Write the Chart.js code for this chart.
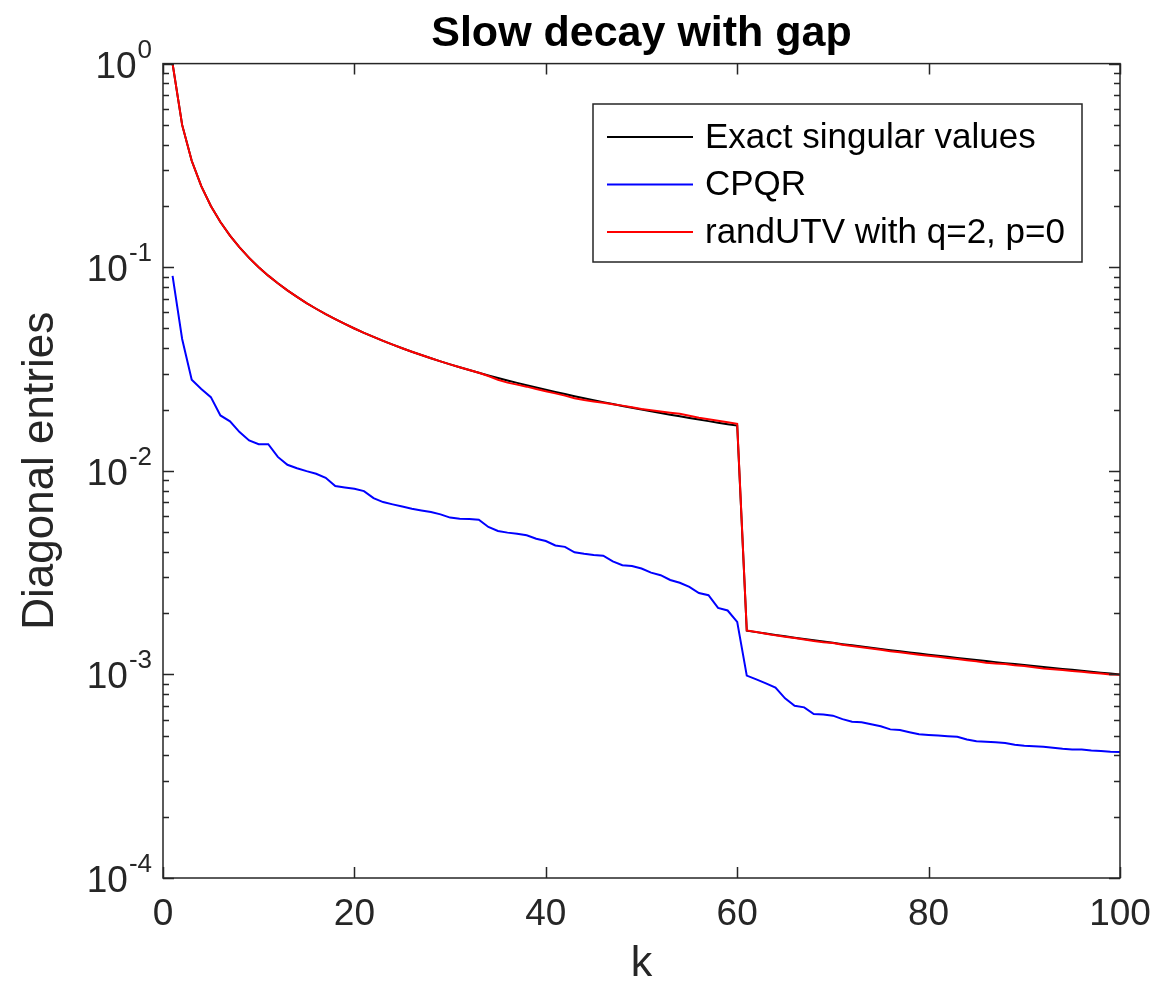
<!DOCTYPE html>
<html>
<head>
<meta charset="utf-8">
<script src="https://cdn.jsdelivr.net/npm/chart.js@4.4.1/dist/chart.umd.min.js"></script>
<style>
  html, body { margin: 0; padding: 0; background: #fff; }
  #wrap { width: 1160px; height: 995px; }
</style>
</head>
<body>
<div id="wrap"><canvas id="chart" width="1160" height="995"></canvas></div>
<script>
// k = 1..100
const kValues = [
  1, 2, 3, 4, 5, 6, 7, 8, 9, 10, 11, 12, 13, 14, 15, 16, 17, 18, 19, 20,
  21, 22, 23, 24, 25, 26, 27, 28, 29, 30, 31, 32, 33, 34, 35, 36, 37, 38, 39, 40,
  41, 42, 43, 44, 45, 46, 47, 48, 49, 50, 51, 52, 53, 54, 55, 56, 57, 58, 59, 60,
  61, 62, 63, 64, 65, 66, 67, 68, 69, 70, 71, 72, 73, 74, 75, 76, 77, 78, 79, 80,
  81, 82, 83, 84, 85, 86, 87, 88, 89, 90, 91, 92, 93, 94, 95, 96, 97, 98, 99, 100
];

// valori singolari esatti
const exactValues = [
  1, 0.5, 0.3333, 0.25, 0.2, 0.1667, 0.1429, 0.125, 0.1111, 0.1,
  0.09091, 0.08333, 0.07692, 0.07143, 0.06667, 0.0625, 0.05882, 0.05556, 0.05263, 0.05,
  0.04762, 0.04545, 0.04348, 0.04167, 0.04, 0.03846, 0.03704, 0.03571, 0.03448, 0.03333,
  0.03226, 0.03125, 0.0303, 0.02941, 0.02857, 0.02778, 0.02703, 0.02632, 0.02564, 0.025,
  0.02439, 0.02381, 0.02326, 0.02273, 0.02222, 0.02174, 0.02128, 0.02083, 0.02041, 0.02,
  0.01961, 0.01923, 0.01887, 0.01852, 0.01818, 0.01786, 0.01754, 0.01724, 0.01695, 0.01667,
  0.001639, 0.001613, 0.001587, 0.001563, 0.001538, 0.001515, 0.001493, 0.001471, 0.001449, 0.001429,
  0.001408, 0.001389, 0.00137, 0.001351, 0.001333, 0.001316, 0.001299, 0.001282, 0.001266, 0.00125,
  0.001235, 0.00122, 0.001205, 0.00119, 0.001176, 0.001163, 0.001149, 0.001136, 0.001124, 0.001111,
  0.001099, 0.001087, 0.001075, 0.001064, 0.001053, 0.001042, 0.001031, 0.00102, 0.00101, 0.001
];

// CPQR
const cpqrValues = [
  0.0906, 0.0444, 0.0280, 0.0252, 0.0230, 0.0187, 0.0175, 0.0155, 0.0141, 0.0135,
  0.0135, 0.0117, 0.0107, 0.0103, 0.00996, 0.00967, 0.00924, 0.00841, 0.00828, 0.00816,
  0.00795, 0.00734, 0.00702, 0.00684, 0.00668, 0.00651, 0.00639, 0.00627, 0.00611, 0.00589,
  0.00582, 0.00580, 0.00575, 0.00530, 0.00506, 0.00497, 0.00491, 0.00482, 0.00464, 0.00452,
  0.00430, 0.00423, 0.00398, 0.00391, 0.00386, 0.00383, 0.00359, 0.00344, 0.00341, 0.00331,
  0.00316, 0.00307, 0.00291, 0.00282, 0.00269, 0.00251, 0.00245, 0.00212, 0.00206, 0.00181,
  0.000986, 0.000945, 0.000904, 0.000861, 0.000763, 0.000702, 0.000689, 0.000639, 0.000635, 0.000627,
  0.000603, 0.000586, 0.000582, 0.000569, 0.000556, 0.000537, 0.000533, 0.000520, 0.000508, 0.000504,
  0.000501, 0.000497, 0.000494, 0.000479, 0.000470, 0.000467, 0.000464, 0.000460, 0.000451, 0.000446,
  0.000444, 0.000441, 0.000436, 0.000431, 0.000428, 0.000428, 0.000423, 0.000420, 0.000417, 0.000416
];

// randUTV con q=2, p=0
const randUtvValues = [
  1, 0.5, 0.3333, 0.25, 0.2, 0.1667, 0.1429, 0.125, 0.1111, 0.1,
  0.09091, 0.08333, 0.07692, 0.07143, 0.06667, 0.0625, 0.05882, 0.05556, 0.05263, 0.05,
  0.04762, 0.04545, 0.04348, 0.04167, 0.04, 0.03846, 0.03704, 0.03571, 0.03448, 0.03333,
  0.03226, 0.03125, 0.0303, 0.0292, 0.0280, 0.0271, 0.0265, 0.0259, 0.0252, 0.0246,
  0.0240, 0.0234, 0.0227, 0.02225, 0.0219, 0.0216, 0.0212, 0.0209, 0.0205, 0.0201,
  0.01985, 0.01955, 0.0193, 0.01905, 0.01865, 0.0182, 0.0179, 0.0176, 0.0173, 0.0170,
  0.001645, 0.001615, 0.001585, 0.001555, 0.00153, 0.00151, 0.001485, 0.00146, 0.00144, 0.001425,
  0.0014, 0.00138, 0.00136, 0.00134, 0.00132, 0.0013, 0.001285, 0.001265, 0.00125, 0.001235,
  0.00122, 0.001205, 0.00119, 0.001175, 0.00116, 0.00114, 0.00113, 0.001125, 0.00111, 0.0011,
  0.001085, 0.00107, 0.00106, 0.00105, 0.00104, 0.00103, 0.00102, 0.00101, 0.001, 0.000995
];

const xTicks = [0, 20, 40, 60, 80, 100];
const yDecades = [1, 0.1, 0.01, 0.001, 0.0001];
const yExponents = ['0', '-1', '-2', '-3', '-4'];

const FONT = '"Liberation Sans", Arial, Helvetica, sans-serif';
const AXIS_COLOR = '#262626';

function toPoints(values) {
    return kValues.map((k, i) => ({ x: k, y: values[i] }));
}

/**
 * Box, tacche interne, etichette 10^n e legenda in stile MATLAB
 */
const matlabAxes = {
    id: 'matlabAxes',
    afterDraw(chart) {
        const { ctx, chartArea: a, scales: { x, y } } = chart;
        ctx.save();
        ctx.strokeStyle = AXIS_COLOR;
        ctx.lineWidth = 1.5;

        // tacche asse x (sopra e sotto)
        ctx.beginPath();
        xTicks.forEach(v => {
            const px = Math.round(x.getPixelForValue(v)) + 0.5;
            ctx.moveTo(px, a.bottom); ctx.lineTo(px, a.bottom - 11);
            ctx.moveTo(px, a.top); ctx.lineTo(px, a.top + 11);
        });
        // tacche asse y logaritmico (principali e secondarie)
        yDecades.forEach(d => {
            for (let m = 1; m <= 9; m++) {
                const v = d * m;
                if (v > 1) break;
                const py = Math.round(y.getPixelForValue(v)) + 0.5;
                const len = m === 1 ? 11 : 6;
                ctx.moveTo(a.left, py); ctx.lineTo(a.left + len, py);
                ctx.moveTo(a.right, py); ctx.lineTo(a.right - len, py);
            }
        });
        ctx.stroke();
        ctx.strokeRect(a.left, a.top, a.right - a.left, a.bottom - a.top);

        // etichette 10^n
        ctx.fillStyle = AXIS_COLOR;
        ctx.textAlign = 'left';
        ctx.textBaseline = 'alphabetic';
        yDecades.forEach((d, i) => {
            const py = y.getPixelForValue(d);
            ctx.font = '37px ' + FONT;
            const wb = ctx.measureText('10').width;
            ctx.font = '26px ' + FONT;
            const we = ctx.measureText(yExponents[i]).width;
            const x0 = a.left - 12 - wb - we;
            ctx.font = '37px ' + FONT;
            ctx.fillText('10', x0, py + 14);
            ctx.font = '26px ' + FONT;
            ctx.fillText(yExponents[i], x0 + wb + 1, py - 6);
        });

        // legenda
        const box = { left: 593, top: 104, right: a.right - 38, bottom: 262 };
        ctx.fillStyle = '#fff';
        ctx.fillRect(box.left, box.top, box.right - box.left, box.bottom - box.top);
        ctx.strokeStyle = AXIS_COLOR;
        ctx.lineWidth = 1.5;
        ctx.strokeRect(box.left, box.top, box.right - box.left, box.bottom - box.top);
        ctx.font = '35px ' + FONT;
        ctx.textBaseline = 'middle';
        chart.data.datasets.forEach((ds, i) => {
            const ry = 137 + i * 47.5;
            ctx.strokeStyle = ds.borderColor;
            ctx.lineWidth = 2;
            ctx.beginPath();
            ctx.moveTo(box.left + 14, ry);
            ctx.lineTo(box.left + 100, ry);
            ctx.stroke();
            ctx.fillStyle = '#000';
            ctx.fillText(ds.label, box.left + 112, ry + 1);
        });
        ctx.restore();
    }
};

const ctx = document.getElementById('chart').getContext('2d');
new Chart(ctx, {
    type: 'line',
    data: {
        datasets: [
            // order più basso = disegnato sopra (rosso sopra il nero)
            { label: 'Exact singular values', data: toPoints(exactValues), borderColor: '#000000', order: 2 },
            { label: 'CPQR', data: toPoints(cpqrValues), borderColor: '#0000ff', order: 1 },
            { label: 'randUTV with q=2, p=0', data: toPoints(randUtvValues), borderColor: '#ff0000', order: 0 }
        ].map(ds => Object.assign(ds, { borderWidth: 2, pointRadius: 0, fill: false, tension: 0 }))
    },
    options: {
        responsive: false,
        animation: false,
        devicePixelRatio: 1,
        layout: { padding: { top: 0, right: 40, bottom: 0, left: 0 } },
        plugins: {
            legend: { display: false },
            tooltip: { enabled: false },
            title: {
                display: true,
                fullSize: false,
                text: 'Slow decay with gap',
                color: '#000',
                font: { family: FONT, size: 43, weight: 'bold' },
                padding: { top: 8, bottom: 4 }
            }
        },
        scales: {
            x: {
                type: 'linear',
                min: 0,
                max: 100,
                grid: { display: false, drawTicks: false },
                border: { display: false },
                ticks: {
                    stepSize: 20,
                    color: AXIS_COLOR,
                    font: { family: FONT, size: 37 },
                    padding: 15,
                    maxRotation: 0
                },
                title: {
                    display: true,
                    text: 'k',
                    color: AXIS_COLOR,
                    font: { family: FONT, size: 43 },
                    padding: { top: 0, bottom: 5 }
                },
                afterFit: function(scale) {
                    scale.height = 117;
                    // le etichette sporgenti non restringono l'area del grafico
                    scale.paddingLeft = 0;
                    scale.paddingRight = 0;
                }
            },
            y: {
                type: 'logarithmic',
                min: 0.0001,
                max: 1,
                grid: { display: false, drawTicks: false },
                border: { display: false },
                ticks: { display: false },
                title: {
                    display: true,
                    text: 'Diagonal entries',
                    color: AXIS_COLOR,
                    font: { family: FONT, size: 44 },
                    padding: { top: 14, bottom: 0 }
                },
                afterFit: function(scale) { scale.width = 163; }
            }
        }
    },
    plugins: [matlabAxes]
});
</script>
</body>
</html>
